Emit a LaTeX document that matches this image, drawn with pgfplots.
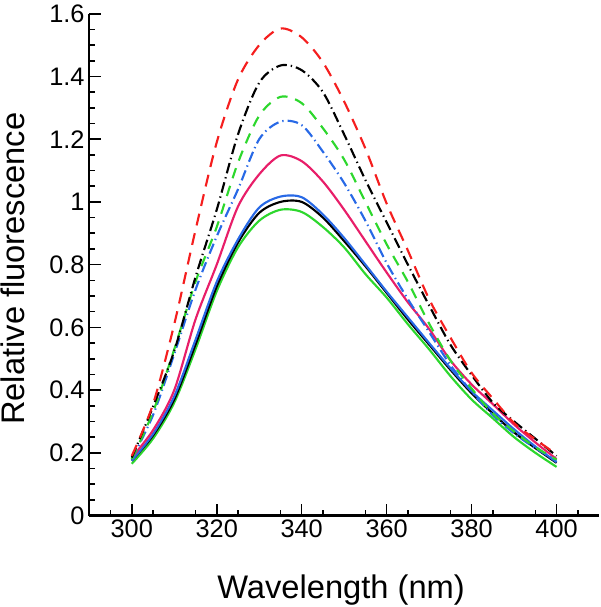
\documentclass[border=0pt]{standalone}
\usepackage{fontspec}
\setmainfont{Liberation Sans}
\usepackage{pgfplots}
\usepackage{pgfplotstable}
\pgfplotsset{compat=1.18}

\definecolor{cred}{RGB}{245,30,30}
\definecolor{cgreen}{RGB}{45,215,45}
\definecolor{cblue}{RGB}{40,105,230}
\definecolor{cpink}{RGB}{232,30,105}

% wavelength (nm) vs relative fluorescence, one column per trace
\pgfplotstableread{
wl  red   kdd   gdash bdash pink  blue  black green
300 0.190 0.185 0.180 0.180 0.185 0.175 0.175 0.165
305 0.355 0.347 0.330 0.320 0.272 0.260 0.255 0.245
310 0.610 0.525 0.530 0.515 0.400 0.380 0.370 0.360
315 0.910 0.760 0.745 0.720 0.625 0.560 0.545 0.530
320 1.190 0.975 0.920 0.890 0.800 0.745 0.730 0.715
325 1.390 1.215 1.125 1.040 0.985 0.880 0.870 0.855
330 1.500 1.380 1.275 1.200 1.088 0.982 0.965 0.940
335 1.553 1.435 1.335 1.256 1.148 1.017 1.000 0.975
340 1.525 1.420 1.315 1.245 1.130 1.015 1.000 0.968
345 1.445 1.350 1.235 1.160 1.065 0.960 0.950 0.920
350 1.320 1.215 1.135 1.060 0.975 0.885 0.875 0.855
355 1.170 1.070 1.000 0.940 0.875 0.800 0.795 0.770
360 0.995 0.935 0.865 0.805 0.775 0.714 0.710 0.695
365 0.845 0.800 0.745 0.690 0.680 0.632 0.625 0.610
370 0.690 0.670 0.612 0.585 0.595 0.550 0.545 0.530
375 0.568 0.545 0.495 0.480 0.495 0.470 0.465 0.445
380 0.455 0.448 0.405 0.395 0.418 0.396 0.390 0.370
385 0.373 0.360 0.325 0.320 0.355 0.335 0.325 0.310
390 0.295 0.300 0.268 0.262 0.290 0.275 0.265 0.250
395 0.243 0.245 0.218 0.215 0.233 0.220 0.215 0.200
400 0.195 0.190 0.178 0.175 0.180 0.170 0.168 0.155
}\spectra

\begin{document}
\begin{tikzpicture}
  \begin{axis}[
    scale only axis,
    width=382.3pt, height=376.3pt,
    xmin=290, xmax=410, ymin=0, ymax=1.6,
    axis lines=left,
    axis line style={-, line width=1.6pt},
    tick align=inside,
    tick style={line width=1.2pt, black},
    major tick length=9pt,
    minor tick length=4.5pt,
    xtick={300,320,...,400},
    minor xtick={295,305,...,405},
    ytick={0,0.2,...,1.6},
    minor y tick num=3,
    /pgf/number format/assume math mode=true,
    tick label style={font=\fontsize{19}{21}\selectfont},
    yticklabel style={/pgf/number format/fixed},
    xlabel={Wavelength (nm)},
    ylabel={Relative fluorescence},
    label style={font=\fontsize{24.5}{28}\selectfont},
    xlabel style={at={(axis description cs:0.494,-0.165)}, anchor=base},
    ylabel style={at={(axis description cs:-0.128,0.492)}, anchor=base},
    clip=false,
    every axis plot/.append style={line width=1.6pt, smooth, no markers},
  ]
    \coordinate (sw) at (rel axis cs:0,0);
    \addplot[color=cgreen] table[x=wl, y=green] {\spectra};
    \addplot[color=black] table[x=wl, y=black] {\spectra};
    \addplot[color=cblue] table[x=wl, y=blue] {\spectra};
    \addplot[color=cpink] table[x=wl, y=pink] {\spectra};
    \addplot[color=cblue, dash pattern=on 8pt off 3pt on 1pt off 3pt] table[x=wl, y=bdash] {\spectra};
    \addplot[color=cgreen, dash pattern=on 8pt off 6pt] table[x=wl, y=gdash] {\spectra};
    \addplot[color=black, dash pattern=on 8pt off 3pt on 1pt off 3pt] table[x=wl, y=kdd] {\spectra};
    \addplot[color=cred, dash pattern=on 9pt off 6pt] table[x=wl, y=red] {\spectra};
  \end{axis}
  \pgfresetboundingbox
  \path[use as bounding box] (sw) ++(-66.975pt,-68.625pt) rectangle ++(450pt,455.25pt);
\end{tikzpicture}
\end{document}
